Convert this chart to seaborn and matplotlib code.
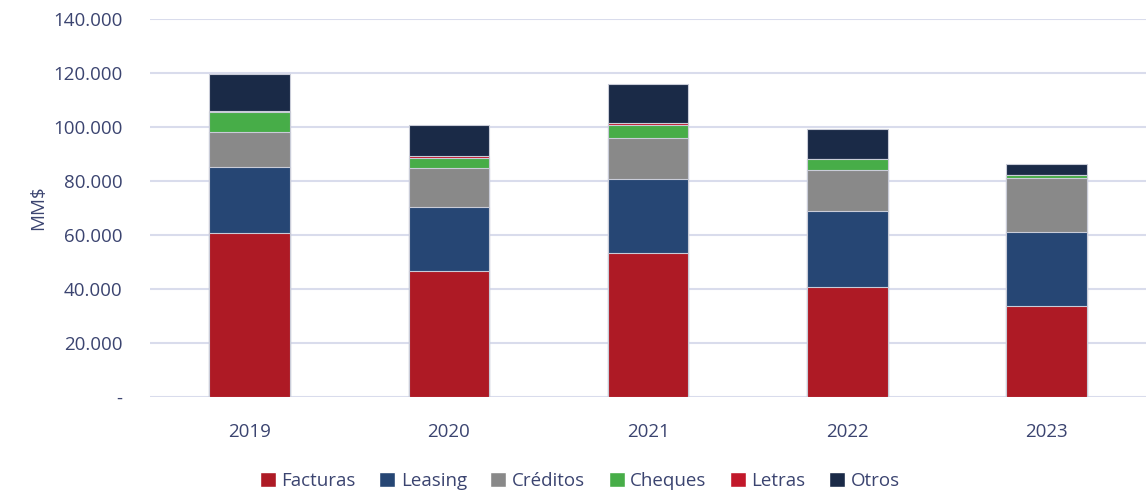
import numpy as np
import pandas as pd
import seaborn as sns
from matplotlib import pyplot as plt
from matplotlib.patches import Patch
from matplotlib.ticker import FuncFormatter

years = ['2019', '2020', '2021', '2022', '2023']
facturas = [60.7, 46.7, 53.4, 40.7, 33.7]
leasing = [24.6, 23.6, 27.2, 28.3, 27.5]
creditos = [12.8, 14.4, 15.5, 14.9, 20.0]
cheques = [7.6, 3.7, 4.5, 4.1, 1.0]
letras = [0.3, 0.8, 0.9, 0.1, 0.1]
otros = [13.7, 11.5, 14.5, 11.0, 4.0]

series = ['Facturas', 'Leasing', 'Créditos', 'Cheques', 'Letras', 'Otros']
colors = ['#AE1A25', '#264674', '#898989', '#47AD48', '#C2182A', '#1A2A47']
textColor = '#3B4470'

sns.set_style('white')
plt.rcParams['font.family'] = ['Open Sans', 'DejaVu Sans']

df = pd.DataFrame({'Año': years, 'Facturas': facturas, 'Leasing': leasing,
                   'Créditos': creditos, 'Cheques': cheques,
                   'Letras': letras, 'Otros': otros})
# values in thousands of MM$
cum = df[series].cumsum(axis=1) * 1000
cum['Año'] = df['Año']

fig = plt.figure(figsize=(11.46, 4.93), dpi=100)
ax = fig.add_axes([0.131, 0.1947, 0.869, 0.7668])

# draw cumulative totals from the top down so each layer shows through
for name, col in reversed(list(zip(series, colors))):
    sns.barplot(data=cum, x='Año', y=name, color=col, width=0.405,
                edgecolor='#C9CCD8', linewidth=0.8, ax=ax, saturation=1)

ax.set_ylim(0, 140000)
ax.set_xlim(-0.5, 4.5)
ax.set_yticks(np.arange(0, 140001, 20000))
ax.yaxis.set_major_formatter(FuncFormatter(
    lambda v, p: '-' if v == 0 else f'{int(v):,}'.replace(',', '.')))
ax.grid(axis='y', color='#D9DCEC', linewidth=1.5)
ax.set_axisbelow(True)
for s in ax.spines.values():
    s.set_visible(False)
ax.tick_params(axis='both', length=0, labelsize=13.5, colors=textColor)
ax.tick_params(axis='y', pad=20)
ax.tick_params(axis='x', pad=19)
ax.set_xlabel('')
ax.set_ylabel('MM$', fontsize=13.5, color=textColor, labelpad=4)

handles = [Patch(facecolor=c, label=n) for n, c in zip(series, colors)]
fig.legend(handles=handles, loc='center', bbox_to_anchor=(0.506, 0.024),
           ncol=6, frameon=False, fontsize=13.5, labelcolor=textColor,
           handlelength=0.85, handleheight=0.85, handletextpad=0.3,
           columnspacing=1.25)

fig.savefig('out.png', dpi=100)
